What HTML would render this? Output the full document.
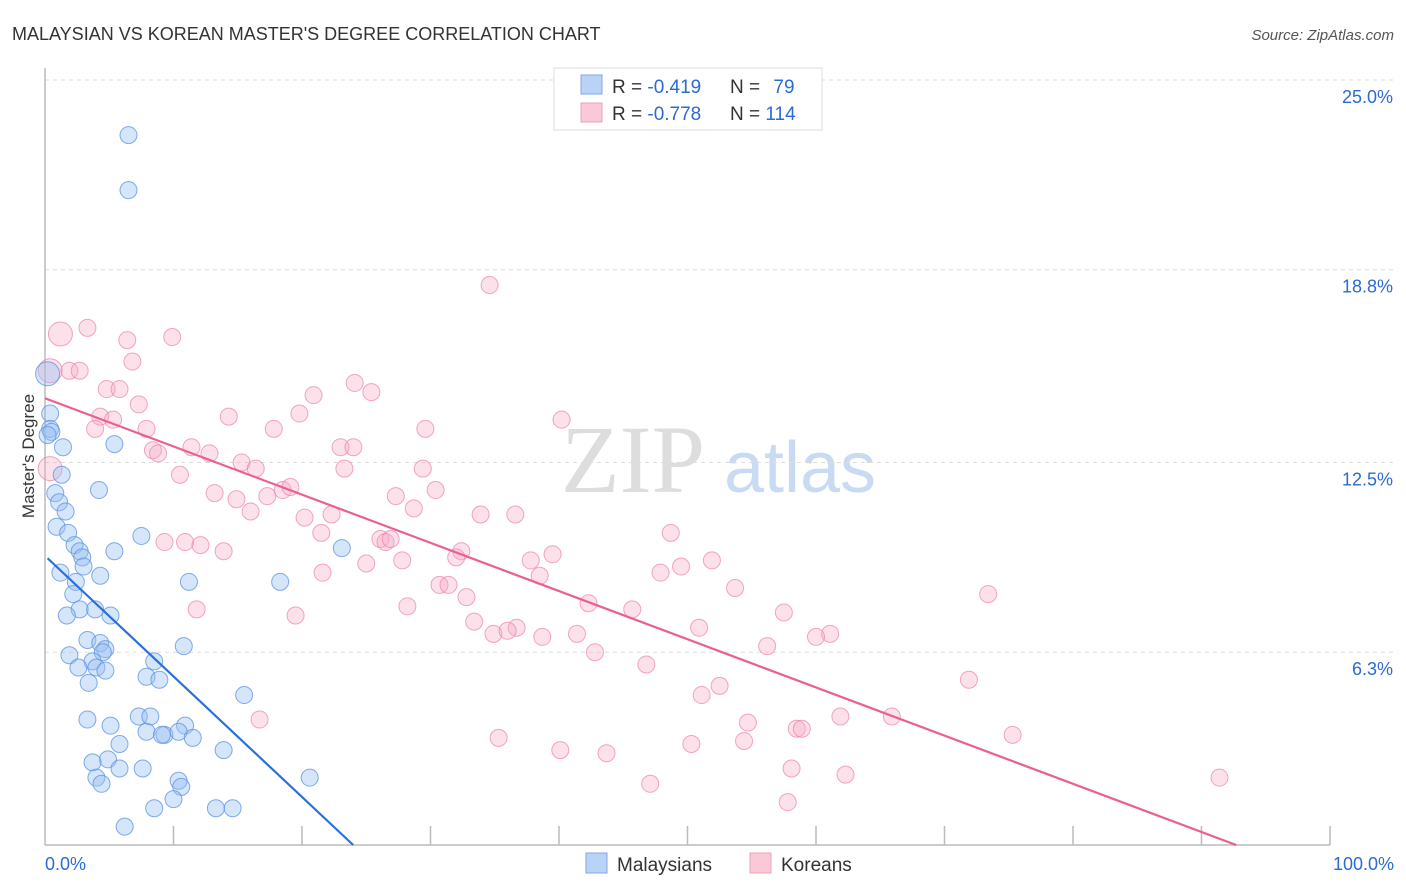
<!DOCTYPE html>
<html><head><meta charset="utf-8"><style>
body{margin:0;background:#fff;font-family:"Liberation Sans",sans-serif}
#wrap{position:relative;width:1406px;height:892px;overflow:hidden}
</style></head><body>
<div id="wrap">
<svg id="svg" width="1406" height="892" xmlns="http://www.w3.org/2000/svg">
<text x="12" y="40" font-size="18" fill="#333">MALAYSIAN VS KOREAN MASTER'S DEGREE CORRELATION CHART</text>
<text x="1394" y="40" font-size="15" fill="#555" font-style="italic" text-anchor="end">Source: ZipAtlas.com</text>
<text x="633" y="492" font-size="96" fill="#ddd" font-family="Liberation Serif,serif" text-anchor="middle">ZIP</text>
<text x="800" y="492" font-size="72" fill="#c9dbf2" text-anchor="middle">atlas</text>
<text transform="translate(34,456) rotate(-90)" font-size="17" fill="#333" text-anchor="middle">Master's Degree</text>
<g id="grid"></g><g id="pts"></g><g id="lines"></g>
<g>
<rect x="554" y="68" width="268" height="62" fill="#fff" stroke="#ddd"/>
<rect x="581" y="75" width="21" height="19" fill="#b9d3f6" stroke="#7eaae6"/>
<rect x="581" y="103" width="21" height="19" fill="#fac8d7" stroke="#f0a0bb"/>
<text x="612" y="93" font-size="19" fill="#333">R = <tspan fill="#2c6bd2">-0.419</tspan></text>
<text x="730" y="93" font-size="19" fill="#333">N = <tspan fill="#2c6bd2" dx="8">79</tspan></text>
<text x="612" y="120" font-size="19" fill="#333">R = <tspan fill="#2c6bd2">-0.778</tspan></text>
<text x="730" y="120" font-size="19" fill="#333">N = <tspan fill="#2c6bd2">114</tspan></text>
</g>
<g>
<rect x="586" y="853" width="21" height="20" fill="#b9d3f6" stroke="#7eaae6"/>
<text x="617" y="871" font-size="19" fill="#333">Malaysians</text>
<rect x="750" y="853" width="21" height="20" fill="#fac8d7" stroke="#f0a0bb"/>
<text x="781" y="871" font-size="19" fill="#333">Koreans</text>
</g>
<text x="45" y="870" font-size="18" fill="#2c6bd2">0.0%</text>
<text x="1394" y="870" font-size="18" fill="#2c6bd2" text-anchor="end">100.0%</text>
</svg>
</div>
<script>
const yTicks=[25.0,18.8,12.5,6.3];
const yTickLabels=["25.0%","18.8%","12.5%","6.3%"];
const xTicks=[0,10,20,30,40,50,60,70,80,90,100];
const blueX=[6.5,6.5,0.2,0.4,0.4,0.5,0.2,1.4,5.4,1.3,0.8,4.2,1.1,1.6,0.9,1.8,7.5,2.3,2.7,2.9,5.4,3.0,1.2,4.3,11.2,18.3,23.1,2.4,2.2,2.7,3.9,5.1,1.7,3.3,4.3,4.7,4.5,1.9,3.7,8.5,10.8,2.6,4.0,4.7,7.9,8.9,3.4,15.5,3.3,5.1,7.3,8.2,10.9,7.9,9.3,9.1,10.4,11.5,5.8,13.9,4.9,3.7,5.8,7.6,4.0,4.4,10.4,10.6,20.6,10.0,8.5,13.3,14.6,6.2];
const blueY=[23.2,21.4,15.4,14.1,13.6,13.5,13.4,13.0,13.1,12.1,11.5,11.6,11.2,10.9,10.4,10.2,10.1,9.8,9.6,9.4,9.6,9.1,8.9,8.8,8.6,8.6,9.7,8.6,8.2,7.7,7.7,7.5,7.5,6.7,6.6,6.4,6.3,6.2,6.0,6.0,6.5,5.8,5.8,5.7,5.5,5.4,5.3,4.9,4.1,3.9,4.2,4.2,3.9,3.7,3.6,3.6,3.7,3.5,3.3,3.1,2.8,2.7,2.5,2.5,2.2,2.0,2.1,1.9,2.2,1.5,1.2,1.2,1.2,0.6];
const pinkX=[1.2,3.3,9.9,6.4,6.8,0.4,1.9,2.7,34.6,4.8,5.8,24.1,20.9,25.4,7.3,4.3,5.3,14.3,19.8,40.2,7.9,3.9,29.6,17.8,11.4,23.0,24.0,8.4,8.8,12.8,15.3,16.4,29.4,10.5,23.3,13.2,14.9,17.3,18.5,19.1,30.4,27.3,16.0,28.7,20.2,22.3,33.9,36.6,48.7,21.5,9.3,10.9,12.1,13.9,26.1,26.5,26.9,32.4,32.0,39.5,37.8,25.0,27.8,51.9,49.5,47.9,21.6,38.5,30.7,31.4,53.7,73.4,32.8,28.2,42.3,45.7,11.8,19.5,57.5,33.4,36.7,34.9,36.0,38.7,41.4,50.9,61.1,60.0,56.2,42.8,46.8,71.9,52.5,51.1,16.7,54.7,61.9,65.9,58.5,58.9,35.3,75.3,54.4,50.3,40.1,43.7,58.1,62.3,47.1,91.4,57.8,0.4];
const pinkY=[16.7,16.9,16.6,16.5,15.8,15.5,15.5,15.5,18.3,14.9,14.9,15.1,14.7,14.8,14.4,14.0,13.9,14.0,14.1,13.9,13.6,13.6,13.6,13.6,13.0,13.0,13.0,12.9,12.8,12.8,12.5,12.3,12.3,12.1,12.3,11.5,11.3,11.4,11.6,11.7,11.6,11.4,10.9,11.0,10.7,10.8,10.8,10.8,10.2,10.2,9.9,9.9,9.8,9.6,10.0,9.9,10.0,9.6,9.4,9.5,9.3,9.2,9.3,9.3,9.1,8.9,8.9,8.8,8.5,8.5,8.4,8.2,8.1,7.8,7.9,7.7,7.7,7.5,7.6,7.3,7.1,6.9,7.0,6.8,6.9,7.1,6.9,6.8,6.5,6.3,5.9,5.4,5.2,4.9,4.1,4.0,4.2,4.2,3.8,3.8,3.5,3.6,3.4,3.3,3.1,3.0,2.5,2.3,2.0,2.2,1.4,12.3];
const bigBlue=[2];
const bigPink=[0,5,111];
const blueFit=[9.45,-0.394];
const pinkFit=[14.6,-0.1575];
const X=v=>45+v*12.85, Y=v=>845-v*30.6;
const NS='http://www.w3.org/2000/svg';
function mk(t,a,p){const e=document.createElementNS(NS,t);for(const k in a)e.setAttribute(k,a[k]);p.appendChild(e);return e;}
const grid=document.getElementById('grid');
mk('line',{x1:45,y1:80,x2:1394,y2:80,stroke:'#ddd','stroke-dasharray':'4,4'},grid);
yTicks.forEach((t,i)=>{
 if(i>0){const l=mk('line',{x1:45,y1:Y(t),x2:1394,y2:Y(t),stroke:'#ddd','stroke-dasharray':'4,4'},grid);
 
 }
 const tx=mk('text',{x:1393,y:Y(t)+23,'font-size':18,fill:'#2c6bd2','text-anchor':'end'},grid);
 tx.textContent=yTickLabels[i];
 
 
});
mk('line',{x1:45,y1:68,x2:45,y2:845,stroke:'#bbb','stroke-width':1.5},grid);
mk('line',{x1:45,y1:845,x2:1330,y2:845,stroke:'#bbb','stroke-width':1.5},grid);
xTicks.forEach(t=>{if(t>0){const l=mk('line',{x1:X(t),y1:826,x2:X(t),y2:845,stroke:'#bbb','stroke-width':1.5},grid);
 
 }});
const pts=document.getElementById('pts');
pinkX.forEach((x,i)=>{const c=mk('circle',{cx:X(x),cy:Y(pinkY[i]),r:bigPink.includes(i)?12:8.5,fill:'rgba(246,170,198,0.35)',stroke:'rgba(236,130,168,0.7)','stroke-width':1},pts);
 
 });
blueX.forEach((x,i)=>{const c=mk('circle',{cx:X(x),cy:Y(blueY[i]),r:bigBlue.includes(i)?12:8.5,fill:'rgba(150,190,242,0.4)',stroke:'rgba(90,145,225,0.75)','stroke-width':1},pts);
 
 });
const lines=document.getElementById('lines');
function fit(f,x0,col,name){const x1=-f[0]/f[1];const l=mk('line',{x1:X(x0),y1:Y(f[0]+f[1]*x0),x2:X(x1),y2:Y(0),stroke:col,'stroke-width':2.2},lines);
 
 }
fit(blueFit,0.2,'#2a6fdb','malaysian-trend-line');
fit(pinkFit,0,'#e8608f','korean-trend-line');
</script>
</body></html>
